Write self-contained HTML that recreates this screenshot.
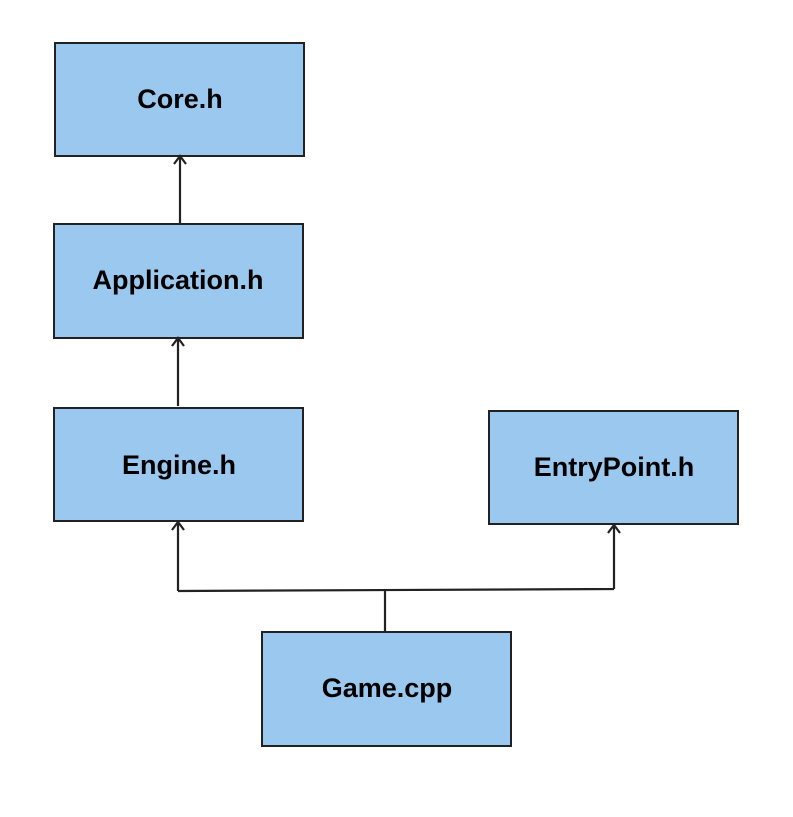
<!DOCTYPE html>
<html><head><style>body{margin:0;background:#fff}</style></head><body>
<svg width="793" height="817" xmlns="http://www.w3.org/2000/svg" style="display:block">
<g fill="#9ac8ee" stroke="#222" stroke-width="2">
<rect x="55" y="43" width="249" height="113"/>
<rect x="54" y="224" width="249" height="114"/>
<rect x="54" y="408" width="249" height="113"/>
<rect x="489" y="411" width="249" height="113"/>
<rect x="262" y="632" width="249" height="114"/>
</g>
<g fill="none" stroke="#222" stroke-width="2.2">
<path d="M180 224 L180 156 M174 164 L180 156 L186 164"/>
<path d="M178 406 L178 338 M172 346 L178 338 L184 346"/>
<path d="M385 632 L385 590 M178 591 L614 589 M178 591 L178 522 M172 530 L178 522 L184 530 M614 589 L614 525 M608 533 L614 525 L620 533"/>
</g>
<g font-family="Liberation Sans, sans-serif" font-weight="bold" font-size="27" text-anchor="middle" fill="#000">
<text x="180" y="108">Core.h</text>
<text x="178" y="289">Application.h</text>
<text x="179" y="474">Engine.h</text>
<text x="614" y="476">EntryPoint.h</text>
<text x="387" y="697">Game.cpp</text>
</g>
</svg>
</body></html>
